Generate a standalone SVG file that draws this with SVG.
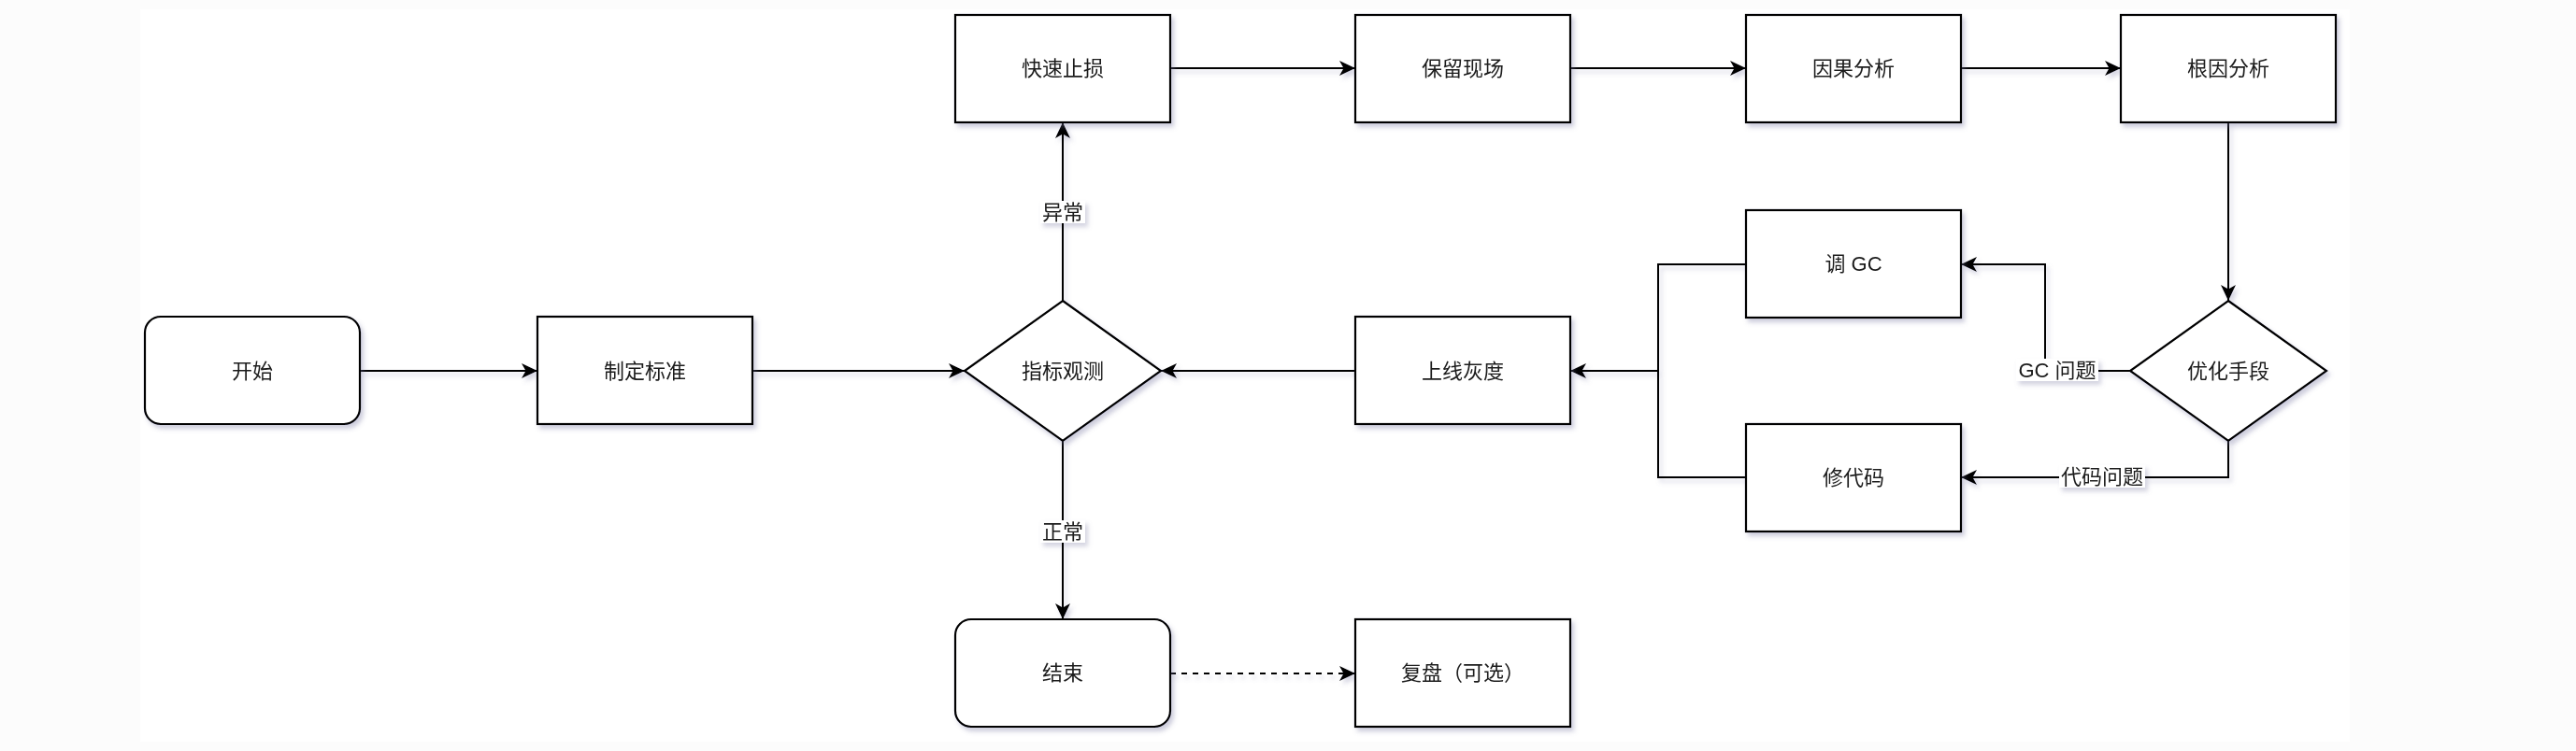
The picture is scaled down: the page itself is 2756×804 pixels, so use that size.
<svg xmlns="http://www.w3.org/2000/svg" width="2756" height="804" viewBox="0 0 2756 804">
<defs>
<style>
.node{fill:#ffffff;stroke:#000000;stroke-width:2.2}
.t{font-family:"Liberation Sans","Noto Sans CJK SC",sans-serif;font-size:22px;fill:#1a1a1a;text-anchor:middle;dominant-baseline:central}
.edge{fill:none;stroke:#000000;stroke-width:2}
.dash{stroke-dasharray:6 6}
.lbl{fill:#ffffff;stroke:none}
</style>
<filter id="sh" x="-20%" y="-20%" width="140%" height="140%">
<feDropShadow dx="3" dy="4" stdDeviation="2.5" flood-color="#6f6f9a" flood-opacity="0.35"/>
</filter>
<filter id="shl" filterUnits="userSpaceOnUse" x="0" y="0" width="2756" height="804">
<feDropShadow dx="3" dy="4" stdDeviation="2.5" flood-color="#6f6f9a" flood-opacity="0.3"/>
</filter>
<marker id="arr" markerUnits="userSpaceOnUse" markerWidth="20" markerHeight="20" refX="17" refY="8" orient="auto">
<path d="M0,0 L17,8 L0,16 L4.5,8 Z" fill="#000000"/>
</marker>
</defs>
<rect x="0" y="0" width="2756" height="804" fill="#fcfcfc"/>
<rect x="150" y="10" width="2364" height="784" fill="#ffffff"/>

<g id="connectors" filter="url(#shl)">
<path class="edge" d="M385,397 L575,397" marker-end="url(#arr)"/>
<path class="edge" d="M805,397 L1032,397" marker-end="url(#arr)"/>
<path class="edge" d="M1137,322 L1137,131" marker-end="url(#arr)"/>
<path class="edge" d="M1137,472 L1137,663" marker-end="url(#arr)"/>
<path class="edge" d="M1252,73 L1450,73" marker-end="url(#arr)"/>
<path class="edge" d="M1680,73 L1868,73" marker-end="url(#arr)"/>
<path class="edge" d="M2098,73 L2269,73" marker-end="url(#arr)"/>
<path class="edge" d="M2384,131 L2384,322" marker-end="url(#arr)"/>
<path class="edge" d="M2279,397 L2188,397 L2188,283 L2098,283" marker-end="url(#arr)"/>
<path class="edge" d="M2384,472 L2384,511 L2098,511" marker-end="url(#arr)"/>
<path class="edge" d="M1868,283 L1774,283 L1774,397 L1680,397" marker-end="url(#arr)"/>
<path class="edge" d="M1868,511 L1774,511 L1774,397"/>
<path class="edge" d="M1450,397 L1242,397" marker-end="url(#arr)"/>
<path class="edge dash" d="M1252,721 L1450,721" marker-end="url(#arr)"/>
<g id="edge-labels">
<rect class="lbl" x="1113" y="215" width="48" height="24"/>
<text class="t" x="1137" y="227">异常</text>
<rect class="lbl" x="1113" y="557" width="48" height="24"/>
<text class="t" x="1137" y="569">正常</text>
<rect class="lbl" x="2157" y="384" width="88" height="24"/>
<text class="t" x="2201" y="396">GC 问题</text>
<rect class="lbl" x="2203" y="498" width="92" height="24"/>
<text class="t" x="2249" y="510">代码问题</text>
</g>
</g>

<g id="n-start" filter="url(#sh)"><rect class="node" x="155" y="339" width="230" height="115" rx="17"/><text class="t" x="270" y="397">开始</text></g>
<g id="n-standard" filter="url(#sh)"><rect class="node" x="575" y="339" width="230" height="115"/><text class="t" x="690" y="397">制定标准</text></g>
<g id="n-observe" filter="url(#sh)"><polygon class="node" points="1137,322 1242,397 1137,472 1032,397"/><text class="t" x="1137" y="397">指标观测</text></g>
<g id="n-stoploss" filter="url(#sh)"><rect class="node" x="1022" y="16" width="230" height="115"/><text class="t" x="1137" y="73">快速止损</text></g>
<g id="n-keep" filter="url(#sh)"><rect class="node" x="1450" y="16" width="230" height="115"/><text class="t" x="1565" y="73">保留现场</text></g>
<g id="n-cause" filter="url(#sh)"><rect class="node" x="1868" y="16" width="230" height="115"/><text class="t" x="1983" y="73">因果分析</text></g>
<g id="n-root" filter="url(#sh)"><rect class="node" x="2269" y="16" width="230" height="115"/><text class="t" x="2384" y="73">根因分析</text></g>
<g id="n-optimize" filter="url(#sh)"><polygon class="node" points="2384,322 2489,397 2384,472 2279,397"/><text class="t" x="2384" y="397">优化手段</text></g>
<g id="n-gc" filter="url(#sh)"><rect class="node" x="1868" y="225" width="230" height="115"/><text class="t" x="1983" y="282">调 GC</text></g>
<g id="n-code" filter="url(#sh)"><rect class="node" x="1868" y="454" width="230" height="115"/><text class="t" x="1983" y="511">修代码</text></g>
<g id="n-gray" filter="url(#sh)"><rect class="node" x="1450" y="339" width="230" height="115"/><text class="t" x="1565" y="397">上线灰度</text></g>
<g id="n-end" filter="url(#sh)"><rect class="node" x="1022" y="663" width="230" height="115" rx="17"/><text class="t" x="1137" y="720">结束</text></g>
<g id="n-review" filter="url(#sh)"><rect class="node" x="1450" y="663" width="230" height="115"/><text class="t" x="1565" y="720">复盘（可选）</text></g>
</svg>
